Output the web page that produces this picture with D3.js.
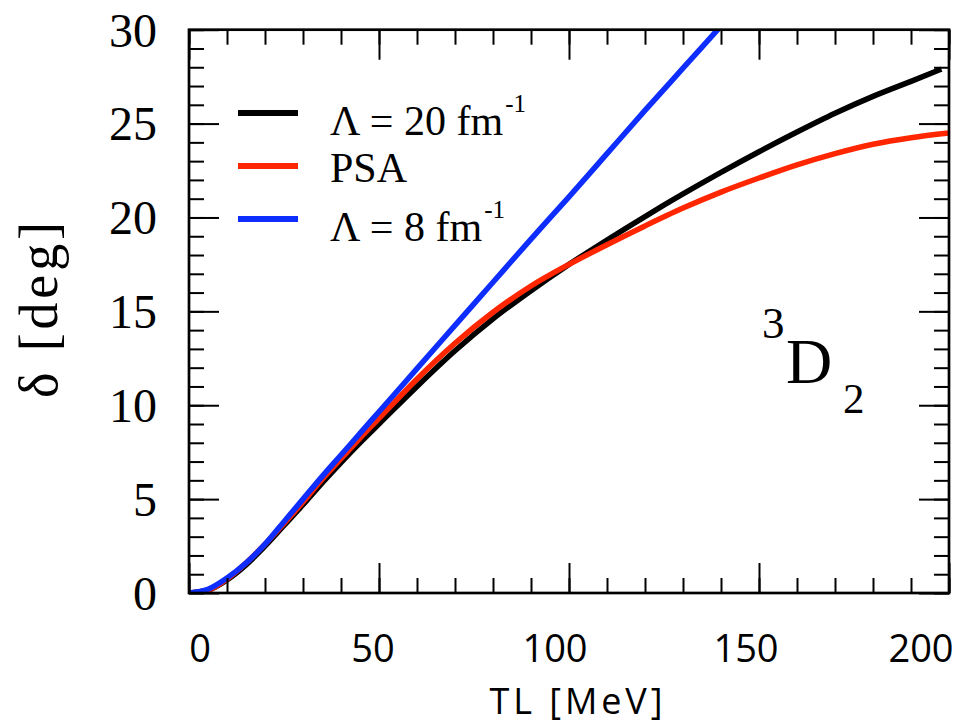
<!DOCTYPE html>
<html>
<head>
<meta charset="utf-8">
<script src="https://cdn.jsdelivr.net/npm/d3@7"></script>
<style>
  body { margin: 0; background: #fff; }
  svg { display: block; }
</style>
</head>
<body>
<div id="container"></div>
<script>
// phase shift 3D2 vs lab energy
const energy = [0, 5, 10, 15, 20, 25, 30, 35, 40, 45, 50, 60, 70, 80, 90, 100, 110, 120, 130, 140, 150, 160, 170, 180, 190, 200];
const lambda20 = [0, 0.15, 0.7, 1.5, 2.5, 3.6, 4.7, 5.85, 6.95, 8.0, 9.0, 11.0, 12.9, 14.6, 16.1, 17.5, 18.8, 20.05, 21.25, 22.4, 23.5, 24.55, 25.55, 26.45, 27.25, 27.9];
const psa = [0, 0.15, 0.75, 1.6, 2.6, 3.7, 4.85, 6.05, 7.15, 8.25, 9.3, 11.4, 13.3, 14.95, 16.35, 17.5, 18.55, 19.55, 20.5, 21.35, 22.1, 22.8, 23.4, 23.9, 24.25, 24.5];
const lambda8 = [0, 0.2, 0.8, 1.6, 2.6, 3.8, 5.0, 6.2, 7.35, 8.5, 9.65, 11.95, 14.25, 16.55, 18.85, 21.1, 23.4, 25.7, 27.95, 30.2];
const lastEnergy20 = 198; // black curve stops just short of 200

const xTicks = [0, 50, 100, 150, 200];
const yTicks = [0, 5, 10, 15, 20, 25, 30];
const legendNames = ["\u039B = 20 fm", "PSA", "\u039B = 8 fm"];
const legendSup = ["-1", "", "-1"];

const width = 968;
const height = 726;
const plotLeft = 189, plotRight = 949, plotTop = 29.7, plotBottom = 593;

const svg = d3
  .select("#container")
  .append("svg")
  .attr("width", width)
  .attr("height", height);

const xScale = d3.scaleLinear().domain([0, 200]).range([plotLeft, plotRight]);
const yScale = d3.scaleLinear().domain([0, 30]).range([plotBottom, plotTop]);

// curves, clipped to the frame
svg.append("clipPath").attr("id", "plot-clip")
  .append("rect")
  .attr("x", plotLeft).attr("y", plotTop)
  .attr("width", plotRight - plotLeft).attr("height", plotBottom - plotTop);

const series = [
  { name: "l20", color: "#000000", x: energy.map((e) => Math.min(e, lastEnergy20)), y: lambda20 },
  { name: "psa", color: "#ff2600", x: energy, y: psa },
  { name: "l8", color: "#0d2eff", x: energy.slice(0, lambda8.length), y: lambda8 },
];

const line = d3.line()
  .x((d) => xScale(d[0]))
  .y((d) => yScale(d[1]))
  .curve(d3.curveMonotoneX);

svg.append("g")
  .attr("clip-path", "url(#plot-clip)")
  .selectAll("path")
  .data(series)
  .enter()
  .append("path")
  .attr("d", (s) => line(s.y.map((v, i) => [s.x[i], v])))
  .attr("fill", "none")
  .attr("stroke", (s) => s.color)
  .attr("stroke-width", 5.5)
  .attr("stroke-linejoin", "round");

// ticks on all four sides, pointing inward
function addAxis(axisFn, scale, values, size, transform) {
  const g = svg.append("g")
    .attr("transform", transform)
    .call(axisFn(scale).tickValues(values).tickSizeInner(size).tickSizeOuter(0).tickFormat(""));
  g.select(".domain").remove();
  g.selectAll("line").attr("stroke", "#000").attr("stroke-width", 2);
  return g;
}
const xMinor = d3.range(0, 201, 10);
const yMinor = d3.range(0, 31, 1);
addAxis(d3.axisBottom, xScale, xMinor, -15, `translate(0,${plotBottom})`);
addAxis(d3.axisBottom, xScale, xTicks, -30, `translate(0,${plotBottom})`);
addAxis(d3.axisTop, xScale, xMinor, -15, `translate(0,${plotTop})`);
addAxis(d3.axisTop, xScale, xTicks, -30, `translate(0,${plotTop})`);
addAxis(d3.axisLeft, yScale, yMinor, -15, `translate(${plotLeft},0)`);
addAxis(d3.axisLeft, yScale, yTicks, -30, `translate(${plotLeft},0)`);
addAxis(d3.axisRight, yScale, yMinor, -15, `translate(${plotRight},0)`);
addAxis(d3.axisRight, yScale, yTicks, -30, `translate(${plotRight},0)`);

svg.append("rect")
  .attr("x", plotLeft).attr("y", plotTop)
  .attr("width", plotRight - plotLeft).attr("height", plotBottom - plotTop)
  .attr("fill", "none")
  .attr("stroke", "#000")
  .attr("stroke-width", 2.7);

// tick labels
const xNudge = [11, -6, -14, -13, -28];
svg.append("g")
  .selectAll("text")
  .data(xTicks)
  .enter()
  .append("text")
  .attr("x", (d, i) => xScale(d) + xNudge[i])
  .attr("y", 662)
  .attr("text-anchor", "middle")
  .style("font-family", "'Comic Sans MS', 'Open Sans', sans-serif")
  .style("font-size", "38px")
  .text((d) => d);

svg.append("g")
  .selectAll("text")
  .data(yTicks)
  .enter()
  .append("text")
  .attr("x", 157)
  .attr("y", (d) => yScale(d))
  .attr("dy", "0.35em")
  .attr("text-anchor", "end")
  .style("font-family", "'Liberation Serif', 'Times New Roman', serif")
  .style("font-size", "48px")
  .text((d) => d);

// axis titles
svg.append("text")
  .attr("x", 576)
  .attr("y", 714)
  .attr("text-anchor", "middle")
  .attr("textLength", 173)
  .attr("lengthAdjust", "spacing")
  .style("font-family", "'Comic Sans MS', 'Open Sans', sans-serif")
  .style("font-size", "36px")
  .text("TL [MeV]");

svg.append("text")
  .attr("transform", "translate(57,310) rotate(-90)")
  .attr("text-anchor", "middle")
  .attr("textLength", 176)
  .attr("lengthAdjust", "spacing")
  .style("font-family", "'Liberation Serif', 'Times New Roman', serif")
  .style("font-size", "54px")
  .text("\u03B4 [deg]");

// legend
const legendY = [113, 166, 219];
const legend = svg.append("g")
  .selectAll("g")
  .data(series)
  .enter()
  .append("g");

legend.append("line")
  .attr("x1", 238).attr("x2", 298)
  .attr("y1", (d, i) => legendY[i]).attr("y2", (d, i) => legendY[i])
  .attr("stroke", (d) => d.color)
  .attr("stroke-width", 6);

const legendText = legend.append("text")
  .attr("x", 330)
  .attr("y", (d, i) => legendY[i] + (legendSup[i] ? 22 : 16))
  .style("font-family", "'Liberation Serif', 'Times New Roman', serif")
  .style("font-size", "42px");
legendText.append("tspan").text((d, i) => legendNames[i]);
legendText.append("tspan")
  .attr("dx", 2)
  .attr("dy", -23)
  .style("font-size", "25px")
  .text((d, i) => legendSup[i]);

// partial wave label
const pw = svg.append("text")
  .attr("x", 762)
  .attr("y", 338)
  .style("font-family", "'Liberation Serif', 'Times New Roman', serif");
pw.append("tspan").style("font-size", "45px").text("3");
pw.append("tspan").attr("x", 786).attr("y", 383).style("font-size", "64px").text("D");
pw.append("tspan").attr("x", 843).attr("y", 413).style("font-size", "43px").text("2");
</script>
</body>
</html>
